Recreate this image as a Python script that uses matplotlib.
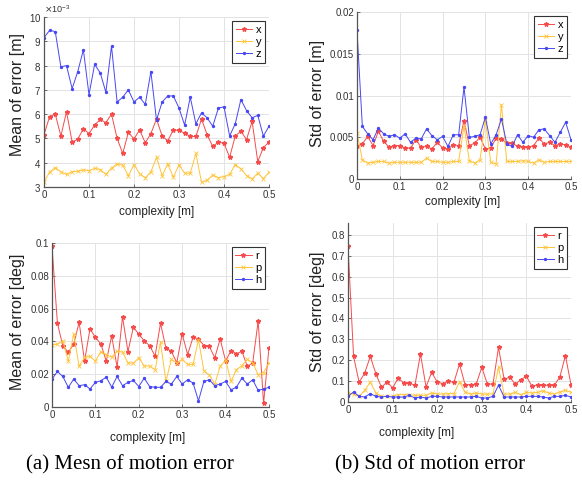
import matplotlib
matplotlib.use("Agg")
import matplotlib.pyplot as plt
from matplotlib.ticker import ScalarFormatter, FormatStrFormatter, MultipleLocator

plt.rcParams['font.family'] = ['Liberation Sans', 'DejaVu Sans']

complexity = [i * 0.0125 for i in range(41)]

# (a) top: mean of position error [m]
mean_x = [5.15, 5.9, 6.0, 5.1, 6.1, 4.85, 4.97, 5.4, 5.2, 5.55, 5.78, 5.65, 6.0, 5.0, 4.38, 5.25,
          4.98, 5.35, 4.82, 5.2, 5.8, 5.1, 4.9, 5.35, 5.33, 5.22, 5.08, 5.08, 5.8, 5.15, 4.67,
          4.85, 4.8, 4.22, 5.1, 5.3, 4.95, 5.7, 4.05, 4.62, 4.85]
mean_y = [3.2, 3.62, 3.8, 3.62, 3.52, 3.63, 3.65, 3.7, 3.67, 3.77, 3.72, 3.52, 3.78, 3.95, 3.9,
          3.47, 3.92, 3.55, 3.38, 3.62, 4.22, 3.47, 3.95, 3.4, 3.92, 3.57, 3.57, 4.38, 3.2, 3.27,
          3.5, 3.38, 3.43, 3.52, 3.92, 3.75, 3.47, 3.33, 3.57, 3.35, 3.6]
mean_z = [9.15, 9.45, 9.4, 7.95, 8.0, 7.05, 7.75, 8.65, 6.8, 8.05, 7.7, 6.9, 8.8, 6.5, 6.7, 7.0,
          6.5, 6.7, 6.4, 7.75, 5.75, 6.5, 6.75, 6.75, 6.25, 5.55, 6.7, 5.6, 6.05, 5.85, 5.5, 6.25,
          6.3, 5.1, 5.6, 6.6, 6.15, 5.85, 5.95, 5.1, 5.5]
mean_x = [v * 1e-3 for v in mean_x]
mean_y = [v * 1e-3 for v in mean_y]
mean_z = [v * 1e-3 for v in mean_z]

# (b) top: std of position error [m]
std_x = [0.0039, 0.0042, 0.0051, 0.0040, 0.0057, 0.0045, 0.0038, 0.0040, 0.0040, 0.0037, 0.0037,
         0.0047, 0.0038, 0.0039, 0.0036, 0.0044, 0.0037, 0.0036, 0.0041, 0.0040, 0.0070, 0.0040,
         0.0043, 0.0050, 0.0036, 0.0037, 0.0049, 0.0048, 0.0043, 0.0043, 0.0039, 0.0038, 0.0038,
         0.0040, 0.0049, 0.0042, 0.0044, 0.0040, 0.0042, 0.0041, 0.0038]
std_y = [0.0055, 0.0023, 0.0019, 0.0020, 0.0021, 0.0021, 0.0019, 0.0020, 0.0020, 0.0020, 0.0020,
         0.0020, 0.0020, 0.0025, 0.0021, 0.0021, 0.0020, 0.0020, 0.0021, 0.0021, 0.0063, 0.0022,
         0.0019, 0.0023, 0.0071, 0.0020, 0.0018, 0.0089, 0.0021, 0.0021, 0.0021, 0.0022, 0.0021,
         0.0019, 0.0023, 0.0020, 0.0021, 0.0021, 0.0021, 0.0021, 0.0021]
std_z = [0.0178, 0.0063, 0.0054, 0.0047, 0.0061, 0.0054, 0.0051, 0.0053, 0.0049, 0.0054, 0.0044,
         0.0049, 0.0048, 0.0060, 0.0052, 0.0047, 0.0051, 0.0039, 0.0053, 0.0053, 0.0110, 0.0050,
         0.0051, 0.0053, 0.0074, 0.0042, 0.0053, 0.0072, 0.0042, 0.0039, 0.0053, 0.0044, 0.0052,
         0.0050, 0.0059, 0.0060, 0.0052, 0.0044, 0.0056, 0.0068, 0.0047]

# (a) bottom: mean of attitude error [deg]
mean_r = [0.098, 0.051, 0.0372, 0.0334, 0.0383, 0.0516, 0.028, 0.0476, 0.0425, 0.0385, 0.028,
          0.0433, 0.0243, 0.0549, 0.0338, 0.0486, 0.0445, 0.0403, 0.0374, 0.031, 0.051, 0.036,
          0.034, 0.027, 0.0445, 0.032, 0.0425, 0.0415, 0.0375, 0.037, 0.030, 0.0415, 0.028,
          0.0344, 0.0324, 0.034, 0.0247, 0.027, 0.0524, 0.0024, 0.036]
mean_p = [0.0379, 0.0383, 0.0403, 0.028, 0.0445, 0.0247, 0.0304, 0.0308, 0.028, 0.0338, 0.032,
          0.0304, 0.0342, 0.0334, 0.027, 0.0267, 0.030, 0.025, 0.025, 0.0227, 0.0395, 0.0156,
          0.029, 0.027, 0.029, 0.026, 0.026, 0.041, 0.022, 0.0196, 0.014, 0.0247, 0.0287, 0.0156,
          0.0227, 0.0253, 0.029, 0.027, 0.0196, 0.021, 0.027]
mean_h = [0.017, 0.0217, 0.0186, 0.012, 0.017, 0.013, 0.0136, 0.011, 0.015, 0.016, 0.0182,
          0.0121, 0.0186, 0.013, 0.015, 0.0162, 0.0125, 0.0176, 0.0125, 0.012, 0.012, 0.0156,
          0.014, 0.0186, 0.014, 0.0166, 0.0146, 0.0038, 0.0156, 0.0166, 0.013, 0.014, 0.0156,
          0.0105, 0.0121, 0.0176, 0.014, 0.0166, 0.0101, 0.011, 0.012]

# (b) bottom: std of attitude error [deg]
std_r = [0.747, 0.218, 0.094, 0.139, 0.218, 0.135, 0.070, 0.096, 0.067, 0.115, 0.091, 0.091,
         0.080, 0.229, 0.072, 0.142, 0.096, 0.088, 0.099, 0.094, 0.182, 0.083, 0.083, 0.086,
         0.166, 0.086, 0.086, 0.261, 0.110, 0.118, 0.086, 0.107, 0.123, 0.075, 0.083, 0.080,
         0.080, 0.080, 0.120, 0.222, 0.083]
std_p = [0.043, 0.038, 0.027, 0.056, 0.096, 0.043, 0.027, 0.027, 0.027, 0.035, 0.035, 0.035,
         0.032, 0.032, 0.032, 0.043, 0.038, 0.038, 0.040, 0.040, 0.096, 0.048, 0.038, 0.043,
         0.038, 0.038, 0.038, 0.166, 0.038, 0.038, 0.046, 0.035, 0.046, 0.043, 0.046, 0.054,
         0.043, 0.038, 0.048, 0.056, 0.046]
std_h = [0.027, 0.048, 0.027, 0.024, 0.040, 0.027, 0.024, 0.027, 0.024, 0.024, 0.024, 0.032,
         0.019, 0.024, 0.019, 0.027, 0.027, 0.024, 0.024, 0.024, 0.024, 0.024, 0.024, 0.027,
         0.019, 0.019, 0.027, 0.080, 0.024, 0.024, 0.024, 0.024, 0.027, 0.027, 0.027, 0.024,
         0.019, 0.027, 0.027, 0.032, 0.024]

RED = '#F54B4B'
YEL = '#FFC43A'
BLUE = '#4747F5'
W, H = 582, 480

fig = plt.figure(figsize=(W / 100, H / 100), dpi=100)


def make_ax(l, r, t, b):
    return fig.add_axes([l / W, 1 - b / H, (r - l) / W, (b - t) / H])


def style(ax, ylim, ystep, yfmt):
    ax.set_xlim(0, 0.5)
    ax.set_ylim(*ylim)
    ax.xaxis.set_major_locator(MultipleLocator(0.1))
    ax.yaxis.set_major_locator(MultipleLocator(ystep))
    ax.xaxis.set_major_formatter(FormatStrFormatter('%g'))
    ax.yaxis.set_major_formatter(yfmt)
    ax.grid(True, color='#E3E3E3', linewidth=0.7)
    ax.set_axisbelow(True)
    for s in ['top', 'right']:
        ax.spines[s].set_visible(False)
    for s in ['left', 'bottom']:
        ax.spines[s].set_color('#555555')
        ax.spines[s].set_linewidth(0.9)
    ax.tick_params(direction='in', length=2, width=0.6, colors='#555555',
                   labelsize=7, labelcolor='#333333', pad=2)


def plot3(ax, ys, labels):
    ax.plot(complexity, ys[0], '-', color=RED, marker='*', ms=3.2, lw=0.7, label=labels[0])
    ax.plot(complexity, ys[1], '-', color=YEL, marker='x', ms=2.4, mew=0.6, lw=0.7, label=labels[1])
    ax.plot(complexity, ys[2], '-', color=BLUE, marker='.', ms=2.8, lw=0.7, label=labels[2])
    leg = ax.legend(loc='upper right', fontsize=8, handlelength=1.5, handletextpad=0.3,
                    borderpad=0.3, labelspacing=0.2, fancybox=False, framealpha=1,
                    borderaxespad=0.4)
    leg.get_frame().set_edgecolor('#333333')
    leg.get_frame().set_linewidth(0.8)


# panel 1
ax1 = make_ax(44, 269, 17, 187)
plot3(ax1, [mean_x, mean_y, mean_z], ['x', 'y', 'z'])
sf = ScalarFormatter(useMathText=True)
sf.set_powerlimits((-3, -3))
style(ax1, (3e-3, 10e-3), 1e-3, sf)
ax1.yaxis.get_offset_text().set_fontsize(6.5)
ax1.yaxis.get_offset_text().set_color('#333333')

# panel 2
ax2 = make_ax(357, 571, 12, 179)
plot3(ax2, [std_x, std_y, std_z], ['x', 'y', 'z'])
style(ax2, (0, 0.02), 0.005, FormatStrFormatter('%g'))

# panel 3
ax3 = make_ax(52, 269, 243, 407)
plot3(ax3, [mean_r, mean_p, mean_h], ['r', 'p', 'h'])
style(ax3, (0, 0.1), 0.02, FormatStrFormatter('%g'))

# panel 4
ax4 = make_ax(348, 571, 223, 402)
plot3(ax4, [std_r, std_p, std_h], ['r', 'p', 'h'])
style(ax4, (0, 0.857), 0.1, FormatStrFormatter('%g'))

# axis labels
ylab = dict(rotation=90, ha='center', va='center', fontsize=11.5, color='#222222')
fig.text(18 / W, 1 - 95 / H, 'Mean of error [m]', **ylab)
fig.text(318 / W, 1 - 93 / H, 'Std of error [m]', **ylab)
fig.text(18 / W, 1 - 322 / H, 'Mean of error [deg]', **ylab)
fig.text(318 / W, 1 - 312 / H, 'Std of error [deg]', **ylab)

xlab = dict(ha='center', va='center', fontsize=8.5, color='#222222')
fig.text(157 / W, 1 - 212 / H, 'complexity [m]', **xlab)
fig.text(463 / W, 1 - 202 / H, 'complexity [m]', **xlab)
fig.text(148 / W, 1 - 438 / H, 'complexity [m]', **xlab)
fig.text(417 / W, 1 - 433 / H, 'complexity [m]', **xlab)

cap = dict(ha='center', va='center', fontsize=15, family='Liberation Serif', color='black')
fig.text(130 / W, 1 - 465 / H, '(a) Mesn of motion error', **cap)
fig.text(430 / W, 1 - 465 / H, '(b) Std of motion error', **cap)

fig.savefig('out.png', dpi=100)
